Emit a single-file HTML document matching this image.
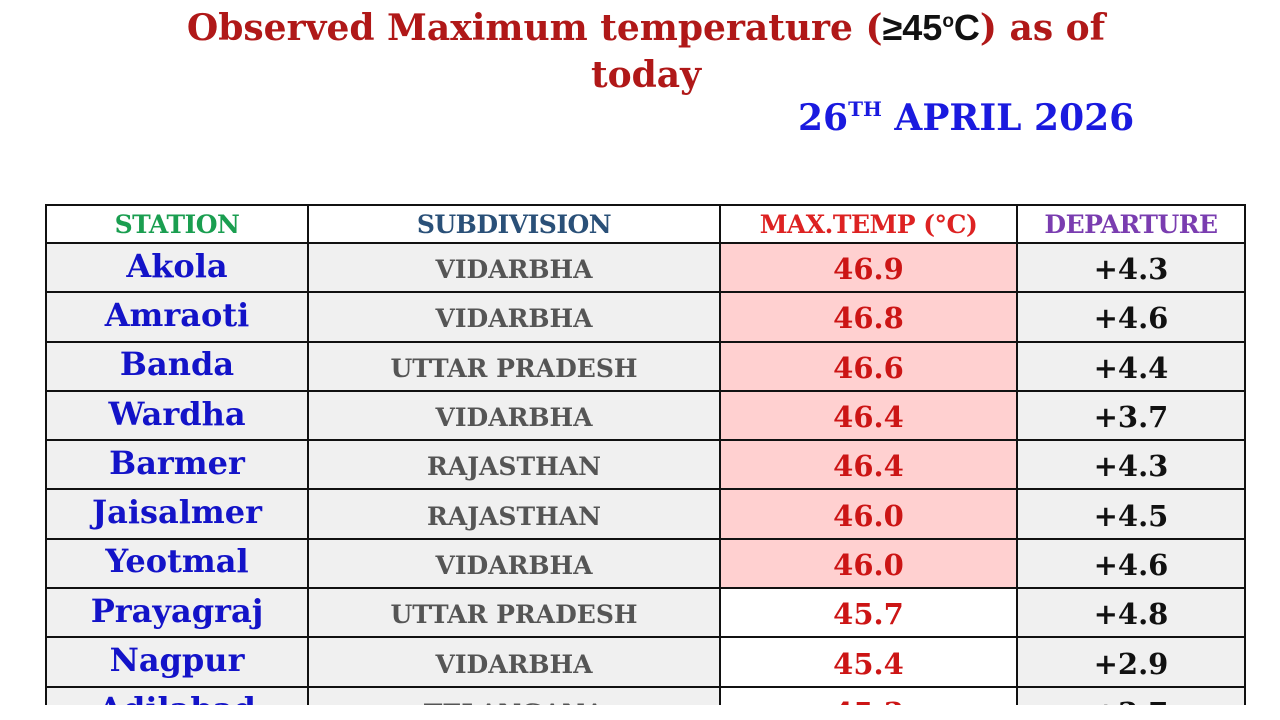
<!DOCTYPE html>
<html><head><meta charset="utf-8"><style>
body{margin:0;width:1280px;height:720px;background:#fff;overflow:hidden;position:relative;font-family:"DejaVu Serif","Liberation Serif",serif;font-weight:bold}
.t{position:absolute;left:0;width:1292px;text-align:center;color:#b01818;font-size:36px;white-space:nowrap}
.d{position:absolute;left:798px;top:97px;color:#1a1adf;font-size:36px;white-space:nowrap}
.d sup{font-size:20px;vertical-align:14px;line-height:0}
#tb{position:absolute;left:45px;top:204px;width:1201px;height:501px;overflow:hidden}
table{border-collapse:collapse;table-layout:fixed;width:1199px}
td{border:2px solid #111;text-align:center;padding:4px 0 0 0;height:43.3px;white-space:nowrap;background:#f0f0f0;vertical-align:middle;line-height:1}
tr.h td{background:#fff;height:36px;padding:0;font-size:25px;letter-spacing:-0.5px}
td.s{color:#1313c8;font-size:32px;padding:0 0 4px 0}
td.v{color:#555;font-size:25px}
td.m{color:#cc1515;font-size:29px;background:#ffd0d0}
td.m.w{background:#fff}
td.p{color:#111;font-size:29px}
</style></head><body>
<div class="t" style="top:7px">Observed Maximum temperature (<span style="color:#111;font-family:'Liberation Sans',sans-serif">≥45<sup style="font-size:19px">o</sup>C</span>) as of</div>
<div class="t" style="top:54px">today</div>
<div class="d">26<sup>TH</sup> APRIL 2026</div>
<div id="tb"><table>
<colgroup><col style="width:262px"><col style="width:412px"><col style="width:297px"><col style="width:228px"></colgroup>
<tr class="h"><td style="color:#1a9e50">STATION</td><td style="color:#2a5078">SUBDIVISION</td><td style="color:#dd2222">MAX.TEMP (°C)</td><td style="color:#7a3db0">DEPARTURE</td></tr>
<tr><td class="s">Akola</td><td class="v">VIDARBHA</td><td class="m">46.9</td><td class="p">+4.3</td></tr>
<tr><td class="s">Amraoti</td><td class="v">VIDARBHA</td><td class="m">46.8</td><td class="p">+4.6</td></tr>
<tr><td class="s">Banda</td><td class="v">UTTAR PRADESH</td><td class="m">46.6</td><td class="p">+4.4</td></tr>
<tr><td class="s">Wardha</td><td class="v">VIDARBHA</td><td class="m">46.4</td><td class="p">+3.7</td></tr>
<tr><td class="s">Barmer</td><td class="v">RAJASTHAN</td><td class="m">46.4</td><td class="p">+4.3</td></tr>
<tr><td class="s">Jaisalmer</td><td class="v">RAJASTHAN</td><td class="m">46.0</td><td class="p">+4.5</td></tr>
<tr><td class="s">Yeotmal</td><td class="v">VIDARBHA</td><td class="m">46.0</td><td class="p">+4.6</td></tr>
<tr><td class="s">Prayagraj</td><td class="v">UTTAR PRADESH</td><td class="m w">45.7</td><td class="p">+4.8</td></tr>
<tr><td class="s">Nagpur</td><td class="v">VIDARBHA</td><td class="m w">45.4</td><td class="p">+2.9</td></tr>
<tr><td class="s">Adilabad</td><td class="v">TELANGANA</td><td class="m w">45.3</td><td class="p">+3.7</td></tr>
</table></div>
</body></html>
